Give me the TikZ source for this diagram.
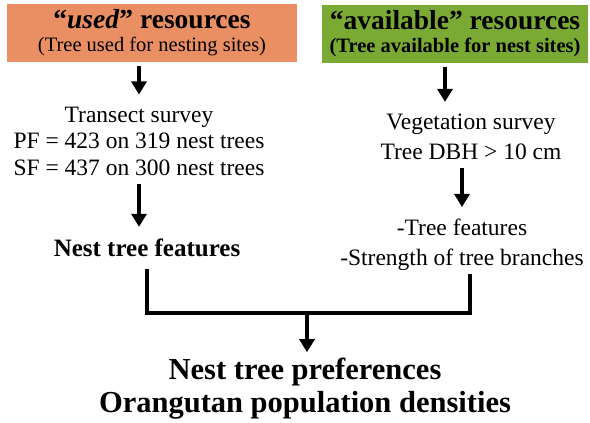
\documentclass[tikz,border=0pt]{standalone}
\usepackage{fontspec}
\setmainfont{Liberation Serif}
\usetikzlibrary{arrows.meta}
\definecolor{usedorange}{RGB}{234,142,100}
\definecolor{availgreen}{RGB}{122,170,52}
\begin{document}
\begin{tikzpicture}[x=1pt,y=-1pt,
  resbox/.style={minimum height=58pt,inner sep=0pt,align=center},
  survey/.style={inner sep=0pt,align=center,font=\fontsize{23.5}{26.5}\selectfont},
  flow/.style={line width=4.5pt,-{Triangle[width=15pt,length=13pt]}},
  bracket/.style={line width=4.5pt}]
  \useasboundingbox (0,0) rectangle (590,423);
  \node[resbox,fill=usedorange,minimum width=290pt] (used) at (152,33)
    {{\bfseries\fontsize{27.5}{27}\selectfont “\textit{used}” resources}\\[7pt]
     {\fontsize{20.5}{27}\selectfont (Tree used for nesting sites)}};
  \node[resbox,fill=availgreen,minimum width=266pt] (avail) at (455,33.5)
    {{\bfseries\fontsize{27.5}{27}\selectfont “available” resources}\\[7pt]
     {\bfseries\fontsize{20.5}{27}\selectfont (Tree available for nest sites)}};
  \node[survey] (transect) at (139,141)
    {Transect survey\\PF = 423 on 319 nest trees\\SF = 437 on 300 nest trees};
  \node[survey,font=\bfseries\fontsize{25}{28}\selectfont] (nestfeat) at (147,248) {Nest tree features};
  \node[survey,font=\fontsize{23.5}{30}\selectfont] (veg) at (471,137)
    {Vegetation survey\\Tree DBH > 10 cm};
  \node[survey,font=\fontsize{23.5}{30}\selectfont] (treefeat) at (462,245)
    {-Tree features\\-Strength of tree branches};
  \node[survey,font=\bfseries\fontsize{30.5}{33}\selectfont] (result) at (305,389)
    {Nest tree preferences\\Orangutan population densities};
  \coordinate (vegin) at ([xshift=-26pt]veg.north);
  \coordinate (join) at (307,313);
  \draw[flow,shorten <=4pt,shorten >=12pt] (transect.north |- used.south) -- (transect.north);
  \draw[flow,shorten <=4pt,shorten >=12pt] (vegin |- avail.south) -- (vegin);
  \draw[flow,shorten <=8pt,shorten >=12pt] (transect.south) -- (transect.south |- nestfeat.north);
  \draw[flow,shorten <=8pt,shorten >=12pt] (treefeat.north |- veg.south) -- (treefeat.north);
  \draw[bracket] ([yshift=-12pt]nestfeat.south) |- (join) -| ([xshift=8pt,yshift=-3pt]treefeat.south);
  \draw[flow,shorten >=6pt] (join) -- (join |- result.north);
\end{tikzpicture}
\end{document}
